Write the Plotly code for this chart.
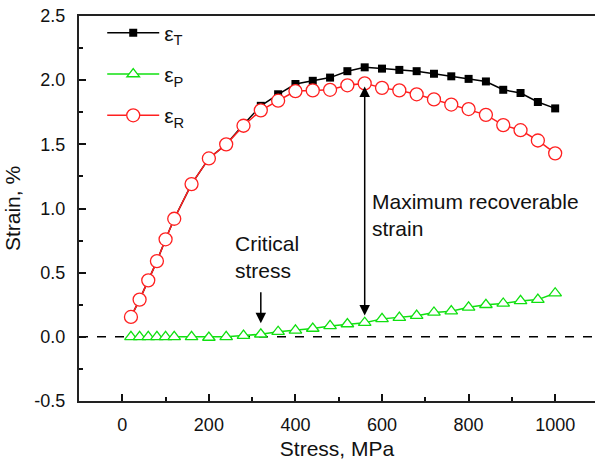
import plotly.graph_objects as go

stress = [20, 40, 60, 80, 100, 120, 160, 200, 240, 280, 320, 360, 400, 440, 480,
          520, 560, 600, 640, 680, 720, 760, 800, 840, 880, 920, 960, 1000]
eps_T = [0.155, 0.29, 0.44, 0.59, 0.76, 0.92, 1.19, 1.39, 1.50, 1.655, 1.80, 1.89,
         1.97, 1.995, 2.02, 2.07, 2.10, 2.09, 2.08, 2.07, 2.05, 2.03, 2.01, 1.99,
         1.925, 1.90, 1.83, 1.78]
eps_P = [0.0, 0.0, 0.0, 0.0, 0.0, 0.0, 0.0, -0.005, 0.0, 0.01, 0.02, 0.04, 0.05,
         0.065, 0.085, 0.10, 0.11, 0.14, 0.15, 0.165, 0.19, 0.20, 0.23, 0.25, 0.26,
         0.28, 0.29, 0.34]
eps_R = [0.155, 0.29, 0.44, 0.59, 0.76, 0.92, 1.19, 1.39, 1.50, 1.645, 1.765, 1.84,
         1.915, 1.92, 1.925, 1.96, 1.975, 1.94, 1.92, 1.89, 1.85, 1.81, 1.775, 1.73,
         1.65, 1.61, 1.53, 1.43]

y_tickvals = [-0.5, 0.0, 0.5, 1.0, 1.5, 2.0, 2.5]
y_ticktext = ["-0.5", "0.0", "0.5", "1.0", "1.5", "2.0", "2.5"]
x_tickvals = [0, 200, 400, 600, 800, 1000]

FONT = "Liberation Sans, Arial, sans-serif"
GREEN = "#10e010"
RED = "#ff2020"

fig = go.Figure()
fig.add_trace(go.Scatter(
    x=stress, y=eps_T, mode="lines+markers", name="ε<sub>T</sub>", legendgroup="T",
    line=dict(color="black", width=1.5),
    marker=dict(symbol="square", size=8, color="black")))
fig.add_trace(go.Scatter(
    x=stress, y=eps_P, mode="lines+markers", name="ε<sub>P</sub>", legendgroup="P",
    line=dict(color=GREEN, width=1.5),
    marker=dict(symbol="triangle-up", size=11, color="white",
                line=dict(color=GREEN, width=1.3))))
fig.add_trace(go.Scatter(
    x=stress, y=eps_R, mode="lines+markers", name="ε<sub>R</sub>", legendgroup="R",
    line=dict(color=RED, width=1.5),
    marker=dict(symbol="circle", size=13, color="white",
                line=dict(color=RED, width=1.3))))

# zero reference line
fig.add_shape(type="line", xref="paper", yref="y", x0=0, x1=1, y0=0, y1=0,
              line=dict(color="black", width=1.5, dash="dash"), layer="below")

# Critical stress arrow and text
fig.add_annotation(x=320, y=0.105, ax=320, ay=0.36, xref="x", yref="y",
                   axref="x", ayref="y", text="", showarrow=True,
                   arrowhead=2, arrowsize=1.4, arrowwidth=1.5, arrowcolor="black")
fig.add_annotation(x=255, y=0.625, xref="x", yref="y", xanchor="left",
                   yanchor="middle", align="left", showarrow=False,
                   text="Critical<br>stress", font=dict(family=FONT, size=21, color="#111"))

# Maximum recoverable strain double arrow and text
fig.add_annotation(x=560, y=1.95, ax=560, ay=0.155, xref="x", yref="y",
                   axref="x", ayref="y", text="", showarrow=True,
                   arrowhead=2, startarrowhead=2, arrowside="end+start",
                   arrowsize=1.4, startarrowsize=1.4, arrowwidth=1.5, arrowcolor="black")
fig.add_annotation(x=572, y=0.95, xref="x", yref="y", xanchor="left",
                   yanchor="middle", align="left", showarrow=False,
                   text="Maximum recoverable<br>strain",
                   font=dict(family=FONT, size=21, color="#111"))

fig.update_layout(
    width=595, height=460,
    margin=dict(l=79, r=0, t=16, b=59),
    paper_bgcolor="white", plot_bgcolor="white",
    font=dict(family=FONT, size=18, color="#111"),
    showlegend=True,
    legend=dict(x=0.045, y=1.009, xanchor="left", yanchor="top",
                bgcolor="rgba(0,0,0,0)", font=dict(family=FONT, size=21),
                tracegroupgap=11, itemwidth=52),
    xaxis=dict(range=[-100, 1092], tickvals=x_tickvals, ticks="inside", ticklen=7,
               tickwidth=1.5, tickcolor="#111", showline=True, linewidth=2,
               linecolor="#222", mirror=True, showgrid=False, zeroline=False,
               minor=dict(dtick=100, tick0=0, ticks="inside", ticklen=4,
                          tickwidth=1.5, tickcolor="#111"),
               title=dict(text="Stress, MPa", font=dict(size=21), standoff=10),
               tickfont=dict(size=18), ticklabelstandoff=6),
    yaxis=dict(range=[-0.5, 2.5], tickvals=y_tickvals, ticktext=y_ticktext,
               ticks="inside", ticklen=7, tickwidth=1.5, tickcolor="#111",
               showline=True, linewidth=2, linecolor="#222", mirror=False,
               showgrid=False, zeroline=False,
               minor=dict(dtick=0.25, tick0=0, ticks="inside", ticklen=4,
                          tickwidth=1.5, tickcolor="#111"),
               title=dict(text="Strain, %", font=dict(size=21), standoff=8),
               tickfont=dict(size=18), ticklabelstandoff=8),
)

fig.write_html("out.html")
